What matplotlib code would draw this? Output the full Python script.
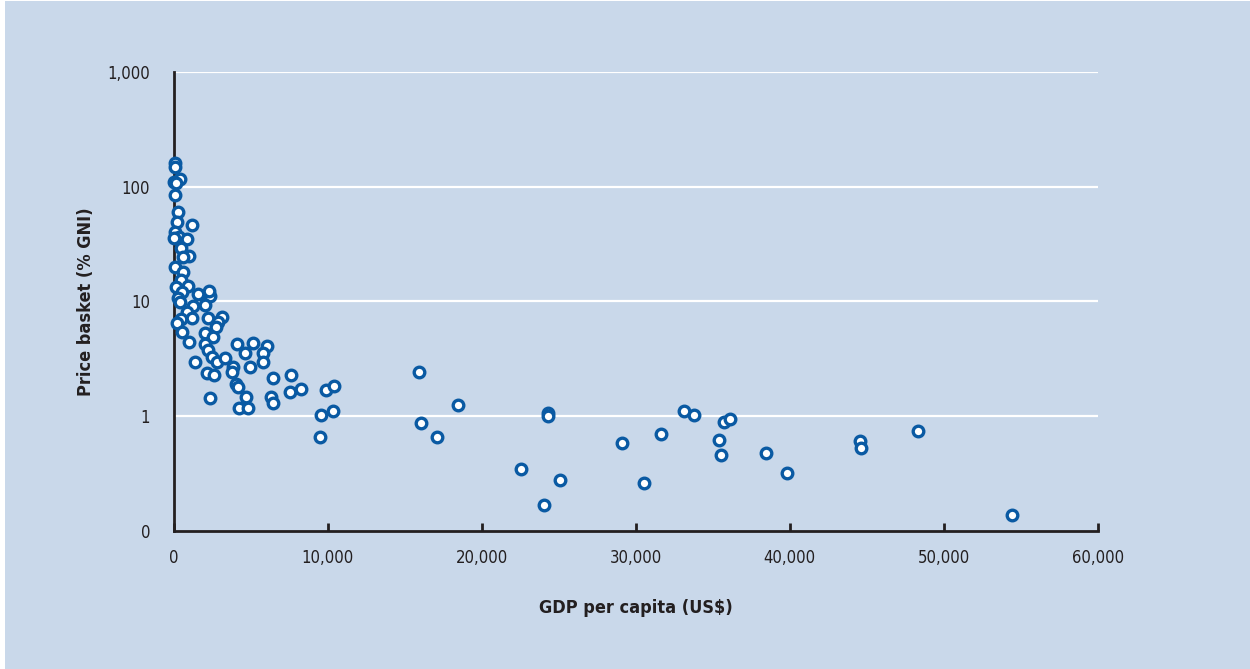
import matplotlib.pyplot as plt
from matplotlib.patches import Rectangle

plt.rcParams['font.family'] = ['DejaVu Sans']
plt.rcParams['font.stretch'] = 'condensed'

# GDP per capita (US$) and mobile price basket (% of GNI) per country
gdp = [100, 85, 409, 30, 150, 85, 300, 234, 1208, 85,
       364, 30, 844, 455, 1013, 584, 85, 584, 455, 150,
       948, 519, 300, 1597, 2357, 2312, 409, 1273, 2032, 844,
       455, 1169, 234, 2247, 3117, 2896, 2747, 519, 2032, 2532,
       1013, 2032, 2247, 4130, 5169, 6039, 4630, 5818, 5779, 4955,
       1383, 2468, 2792, 3331, 3870, 3766, 2143, 2617, 4045, 4156,
       4675, 4260, 4805, 2357, 6468, 7636, 6299, 6429, 7532, 8247,
       9890, 10390, 9565, 10364, 9481,
       15909, 18481, 16058, 17097, 22571, 24299, 24305, 24039, 25110, 29097,
       30532, 31649, 33110, 33805, 35708, 36123, 35429, 35519, 38442, 39831,
       44591, 44630, 48344, 54422]
basket = [162, 148, 116, 111, 108, 84.8, 60.6, 49.6, 46.4, 40.6,
          36.7, 36.0, 35.1, 29.1, 25.1, 24.6, 20.1, 18.2, 15.4, 13.5,
          13.7, 12.2, 10.7, 11.6, 11.2, 12.3, 9.96, 9.14, 9.32, 8.15,
          7.0, 7.14, 6.46, 7.14, 7.28, 6.67, 6.03, 5.46, 5.28, 4.93,
          4.46, 4.24, 3.78, 4.26, 4.38, 4.12, 3.54, 3.58, 2.99, 2.70,
          2.99, 3.30, 2.99, 3.20, 2.70, 2.44, 2.37, 2.29, 1.91, 1.81,
          1.48, 1.19, 1.17, 1.43, 2.14, 2.27, 1.46, 1.31, 1.63, 1.74,
          1.70, 1.82, 1.02, 1.10, 0.66,
          2.42, 1.25, 0.87, 0.66, 0.35, 1.06, 1.00, 0.17, 0.28, 0.58,
          0.26, 0.70, 1.10, 1.03, 0.89, 0.94, 0.62, 0.46, 0.48, 0.32,
          0.61, 0.53, 0.75, 0.139]

x_ticks = [0, 10000, 20000, 30000, 40000, 50000, 60000]
x_labels = ['0', '10,000', '20,000', '30,000', '40,000', '50,000', '60,000']
y_ticks = [0.1, 1, 10, 100, 1000]
y_labels = ['0', '1', '10', '100', '1,000']

bg = '#c9d8ea'
ink = '#231f20'
blue = '#0a5aa3'

fig = plt.figure(figsize=(12.5, 6.69), dpi=100, facecolor='white')
fig.patches.append(Rectangle((5 / 1250, 0), 1, 668 / 669, transform=fig.transFigure,
                             facecolor=bg, edgecolor='none', zorder=-10))
ax = fig.add_axes([0.139, 0.2063, 0.7392, 0.6861])
ax.set_facecolor(bg)

ax.set_yscale('log')
ax.set_xlim(0, 60000)
ax.set_ylim(0.1, 1000)

for v in [1, 10, 100, 1000]:
    ax.axhline(v, color='white', lw=1.6, zorder=1)

ax.scatter(gdp, basket, s=58, facecolor='white', edgecolor=blue,
           linewidth=2.4, zorder=3, clip_on=False)

for s in ['top', 'right']:
    ax.spines[s].set_visible(False)
for s in ['left', 'bottom']:
    ax.spines[s].set_color(ink)
    ax.spines[s].set_linewidth(2)
    ax.spines[s].set_zorder(2)

ax.set_xticks(x_ticks)
ax.set_xticklabels(x_labels)
ax.set_yticks(y_ticks)
ax.set_yticklabels(y_labels)
ax.minorticks_off()
ax.tick_params(axis='x', direction='in', length=6, width=2, color=ink,
               labelsize=12, labelcolor=ink, pad=13)
ax.tick_params(axis='y', length=0, labelsize=12, labelcolor=ink, pad=17)

ax.set_xlabel('GDP per capita (US$)', fontsize=13, fontweight='bold',
              color=ink, labelpad=23)
ax.set_ylabel('Price basket (% GNI)', fontsize=13, fontweight='bold',
              color=ink, labelpad=9)

fig.savefig('out.png', dpi=100, facecolor=fig.get_facecolor())
